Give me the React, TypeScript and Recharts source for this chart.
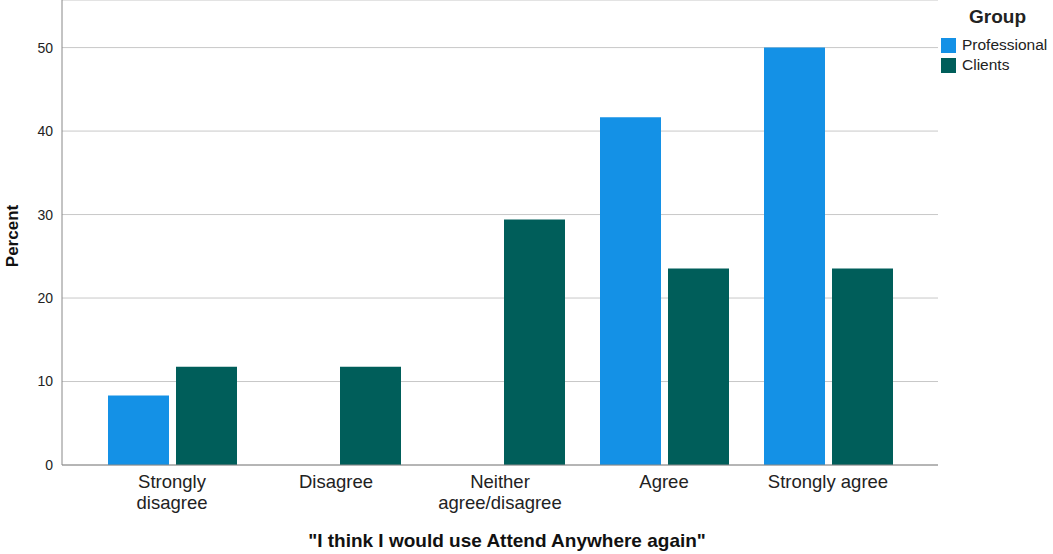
import React from 'react';
import { BarChart, Bar, XAxis, YAxis, CartesianGrid } from 'recharts';

const categories = ['Strongly disagree', 'Disagree', 'Neither agree/disagree', 'Agree', 'Strongly agree'];
const tickLines = [['Strongly', 'disagree'], ['Disagree'], ['Neither', 'agree/disagree'], ['Agree'], ['Strongly agree']];
const professional = [8.33, 0, 0, 41.67, 50];
const clients = [11.76, 11.76, 29.41, 23.53, 23.53];
const yTicks = [0, 10, 20, 30, 40, 50];
const seriesNames = ['Professional', 'Clients'];
const colors = ['#1491e6', '#005e5a'];

const data = categories.map((c, i) => ({ cat: c, professional: professional[i], clients: clients[i] }));

const FONT = '"Liberation Sans", Arial, sans-serif';

const XTick = (props: any) => {
  const { x, y, payload } = props;
  const idx = categories.indexOf(payload.value);
  const lines = tickLines[idx] || [payload.value];
  return (
    <g>
      {lines.map((l: string, i: number) => (
        <text key={i} x={x} y={y + 23 + i * 21} textAnchor="middle" fontFamily={FONT} fontSize={18.5} fill="#222">
          {l}
        </text>
      ))}
    </g>
  );
};

const LegendBox = () => (
  <div style={{ position: 'absolute', left: 941, top: 6, width: 112, fontFamily: FONT, color: '#222' }}>
    <div style={{ fontWeight: 'bold', fontSize: 19, lineHeight: '22px', marginLeft: 28, marginBottom: 7 }}>Group</div>
    {seriesNames.map((n, i) => (
      <div key={n} style={{ display: 'flex', alignItems: 'center', height: 20 }}>
        <div style={{ width: 15, height: 15, background: colors[i], marginRight: 6 }} />
        <span style={{ fontSize: 15.5 }}>{n}</span>
      </div>
    ))}
  </div>
);

export default function App() {
  return (
    <div style={{ position: 'absolute', left: 0, top: 0, width: 1053, height: 554, background: '#fff' }}>
      <BarChart
        width={1053}
        height={554}
        data={data}
        margin={{ top: 0, right: 115, left: 0, bottom: 0 }}
        barCategoryGap={18}
        barGap={7}
      >
        <CartesianGrid horizontal vertical={false} stroke="#c8c8c8" />
        <XAxis
          dataKey="cat"
          padding={{ left: 28, right: 28 }}
          tickLine={false}
          tickSize={0}
          tickMargin={0}
          axisLine={{ stroke: '#888' }}
          tick={<XTick />}
          interval={0}
          height={89}
          label={{
            content: () => (
              <text x={507} y={547} textAnchor="middle" fontFamily={FONT} fontWeight="bold" fontSize={19} fill="#111">
                "I think I would use Attend Anywhere again"
              </text>
            ),
          }}
        />
        <YAxis
          width={62}
          domain={[0, 55.7]}
          ticks={yTicks}
          tickLine={false}
          tickSize={0}
          tickMargin={9}
          axisLine={{ stroke: '#888' }}
          tick={{ fontFamily: FONT, fontSize: 14, fill: '#222' }}
          label={{
            content: () => (
              <text x={18} y={236} textAnchor="middle" transform="rotate(-90 18 236)" fontFamily={FONT} fontWeight="bold" fontSize={17} fill="#111">
                Percent
              </text>
            ),
          }}
        />
        <Bar dataKey="professional" name={seriesNames[0]} fill={colors[0]} isAnimationActive={false} />
        <Bar dataKey="clients" name={seriesNames[1]} fill={colors[1]} isAnimationActive={false} />
      </BarChart>
      <LegendBox />
    </div>
  );
}
